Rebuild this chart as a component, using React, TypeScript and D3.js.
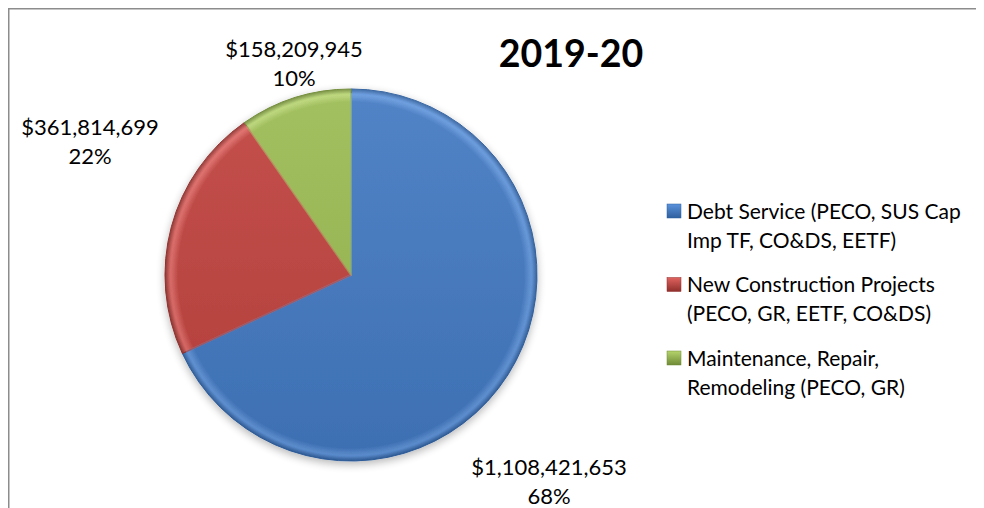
import React from "react";
import * as d3 from "d3";

const categories = [
  ["Debt Service (PECO, SUS Cap", "Imp TF, CO&DS, EETF)"],
  ["New Construction Projects", "(PECO, GR, EETF, CO&DS)"],
  ["Maintenance, Repair,", "Remodeling (PECO, GR)"],
];
const values = [1108421653, 361814699, 158209945];
const colors = ["#4279c2", "#c0423e", "#9bbb52"];
const darkColors = ["#2f5f9e", "#8f2f2c", "#6f8a36"];
const lightColors = ["#5a92dc", "#e0625e", "#b5d46c"];
const title = "2019-20";

const W = 976;
const H = 500;
const cx = 343;
const cy = 267;
const R = 186;

export default function App() {
  const total = d3.sum(values);
  const pie = d3.pie<number>().sort(null).value((d) => d)(values);
  const arc = d3.arc<d3.PieArcDatum<number>>().innerRadius(0).outerRadius(R);
  const innerArc = d3.arc<d3.PieArcDatum<number>>().innerRadius(0).outerRadius(R - 5);
  const fmt = d3.format("$,");
  const pct = (v: number) => Math.round((v / total) * 100) + "%";
  const labelPos = [
    [541, 467],
    [82, 127],
    [286, 49],
  ];
  const font = "Lato, 'Open Sans', sans-serif";
  return (
    <svg width={W} height={H} style={{ display: "block", fontFamily: font }}>
      <defs>
        {colors.map((c, i) => (
          <radialGradient key={"r" + i} id={"rg" + i} gradientUnits="userSpaceOnUse" cx={0} cy={0} r={R}>
            <stop offset="0%" stopColor={c} />
            <stop offset="93%" stopColor={c} />
            <stop offset="97%" stopColor={lightColors[i]} stopOpacity={0.9} />
            <stop offset="100%" stopColor={darkColors[i]} />
          </radialGradient>
        ))}
        {colors.map((c, i) => (
          <linearGradient key={"l" + i} id={"lg" + i} x1="0" y1="0" x2="0" y2="1">
            <stop offset="0%" stopColor={lightColors[i]} />
            <stop offset="100%" stopColor={darkColors[i]} />
          </linearGradient>
        ))}
        <linearGradient id="shade" x1="0" y1="0" x2="0" y2="1">
          <stop offset="0%" stopColor="#fff" stopOpacity={0.08} />
          <stop offset="100%" stopColor="#000" stopOpacity={0.08} />
        </linearGradient>
        <filter id="sh" x="-20%" y="-20%" width="140%" height="140%">
          <feGaussianBlur in="SourceAlpha" stdDeviation="4" />
          <feOffset dx="0" dy="3" result="b" />
          <feComponentTransfer>
            <feFuncA type="linear" slope="0.3" />
          </feComponentTransfer>
          <feMerge>
            <feMergeNode />
            <feMergeNode in="SourceGraphic" />
          </feMerge>
        </filter>
      </defs>
      <rect x={0} y={0} width={W} height={H} fill="white" />
      <line x1={0} y1={0.75} x2={W} y2={0.75} stroke="#8c8c8c" strokeWidth={1.5} />
      <line x1={0.75} y1={0} x2={0.75} y2={H} stroke="#8c8c8c" strokeWidth={1.5} />
      <g transform={`translate(${cx},${cy})`} filter="url(#sh)">
        {pie.map((p, i) => (
          <path key={i} d={arc(p) || ""} fill={`url(#rg${i})`} stroke={darkColors[i]} strokeWidth={1} strokeLinejoin="round" />
        ))}
        {pie.map((p, i) => (
          <path key={"in" + i} d={innerArc(p) || ""} fill="none" stroke={lightColors[i]} strokeOpacity={0.35} strokeWidth={2} strokeLinejoin="round" />
        ))}
        <circle r={R} fill="url(#shade)" />
      </g>
      {pie.map((p, i) => (
        <text key={i} x={labelPos[i][0]} y={labelPos[i][1]} textAnchor="middle" fontSize={22} fill="#000">
          <tspan x={labelPos[i][0]} dy="0">{fmt(p.data)}</tspan>
          <tspan x={labelPos[i][0]} dy="29">{pct(p.data)}</tspan>
        </text>
      ))}
      <text x={563} y={59} textAnchor="middle" fontSize={37.5} fontWeight="bold">{title}</text>
      {categories.map((lines, i) => (
        <g key={i} transform={`translate(659,${196 + i * 73.5})`}>
          <rect x={0} y={0} width={14} height={14} fill={`url(#lg${i})`} stroke={darkColors[i]} strokeWidth={0.5} />
          {lines.map((l, j) => (
            <text key={j} x={20} y={14.5 + j * 29} fontSize={21} fill="#000">{l}</text>
          ))}
        </g>
      ))}
    </svg>
  );
}
